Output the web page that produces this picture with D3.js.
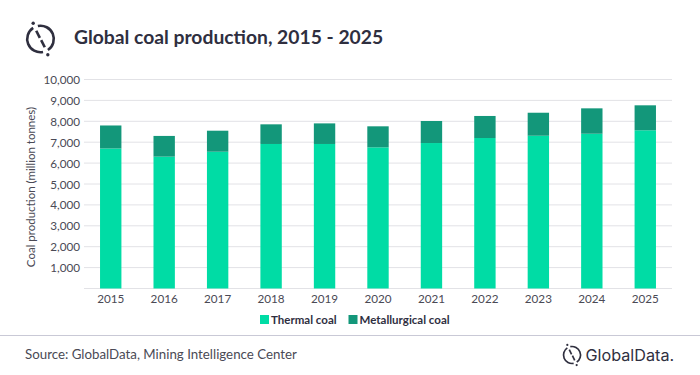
<!DOCTYPE html>
<html><head><meta charset="utf-8">
<script src="https://cdn.jsdelivr.net/npm/d3@7/dist/d3.min.js"></script>
<style>html,body{margin:0;padding:0;background:#fff;overflow:hidden}svg{display:block}text{font-family:Lato,"Open Sans",sans-serif}</style>
</head><body><svg id="c" width="700" height="375"></svg>
<script>
const years = ["2015","2016","2017","2018","2019","2020","2021","2022","2023","2024","2025"];
const thermal = [6700,6310,6545,6915,6915,6755,6960,7200,7310,7405,7570];
const metallurgical = [1100,990,1005,940,985,1005,1055,1055,1100,1215,1195];
const yTicks = [1000,2000,3000,4000,5000,6000,7000,8000,9000,10000];
const seriesNames = ["Thermal coal","Metallurgical coal"];
const seriesColors = ["#00dca5","#13977a"];

const svg = d3.select("#c");
const ink = "#2f2f3f", label = "#4a4a55";
const x = d3.scaleBand().domain(years).range([84,672]).paddingInner(0.6).paddingOuter(0.3);
const y = d3.scaleLinear().domain([0,10000]).range([288.5,79.5]);

svg.append("g").selectAll("line").data([0].concat(yTicks)).join("line")
  .attr("x1",84).attr("x2",672).attr("y1",d=>y(d)).attr("y2",d=>y(d))
  .attr("stroke","#e2e2e6").attr("stroke-width",1);

const stack = d3.stack().keys([0,1]).value((d,k)=>k===0?thermal[d]:metallurgical[d])(d3.range(years.length));
svg.append("g").selectAll("g").data(stack).join("g").attr("fill",(d,i)=>seriesColors[i])
  .selectAll("rect").data(d=>d.map((v,i)=>({v,i}))).join("rect")
  .attr("x",d=>x(years[d.i])).attr("width",x.bandwidth())
  .attr("y",d=>y(d.v[1])).attr("height",d=>y(d.v[0])-y(d.v[1]));

svg.append("g").selectAll("text").data(yTicks).join("text")
  .attr("x",80).attr("y",d=>y(d)+4.5).attr("text-anchor","end")
  .attr("font-size",11.7).attr("fill",label).text(d=>d3.format(",")(d));
svg.append("g").selectAll("text").data(years).join("text")
  .attr("x",d=>x(d)+x.bandwidth()/2).attr("y",303).attr("text-anchor","middle")
  .attr("font-size",11.7).attr("fill",label).text(d=>d);
svg.append("text").attr("transform","translate(35,187) rotate(-90)").attr("text-anchor","middle")
  .attr("font-size",11.5).attr("fill",label).text("Coal production (million tonnes)");

svg.append("text").attr("x",74).attr("y",44).attr("font-size",19.3).attr("font-weight",700).attr("fill",ink)
  .text("Global coal production, 2015 - 2025");

const lx=[260,348.5], tx=[271,359.5];
seriesNames.forEach((n,i)=>{
  svg.append("rect").attr("x",lx[i]).attr("y",315).attr("width",9).attr("height",9).attr("fill",seriesColors[i]);
  svg.append("text").attr("x",tx[i]).attr("y",324).attr("font-size",11.5).attr("font-weight",700).attr("fill",ink).text(n);
});

svg.append("line").attr("x1",0).attr("x2",700).attr("y1",335.5).attr("y2",335.5).attr("stroke","#c9c9d6").attr("stroke-width",1);
svg.append("text").attr("x",25).attr("y",359).attr("font-size",13.3).attr("fill",label).text("Source: GlobalData, Mining Intelligence Center");

function logo(cx,cy,r,sw){
  const g=svg.append("g").attr("fill","none").attr("stroke",ink).attr("stroke-width",sw);
  const arc=d3.arc().innerRadius(r).outerRadius(r);
  g.append("path").attr("transform",`translate(${cx},${cy})`).attr("d",arc({startAngle:-0.2,endAngle:2.55}));
  g.append("path").attr("transform",`translate(${cx},${cy})`).attr("d",arc({startAngle:2.95,endAngle:5.7}));
  g.append("line").attr("x1",cx-r*0.32).attr("y1",cy-r*0.62).attr("x2",cx-r*0.05).attr("y2",cy-r*0.08);
  g.append("line").attr("x1",cx+r*0.05).attr("y1",cy+r*0.08).attr("x2",cx+r*0.32).attr("y2",cy+r*0.62);
  svg.append("circle").attr("cx",cx-r*0.55).attr("cy",cy-r*1.18).attr("r",sw*0.65).attr("fill",ink);
  svg.append("circle").attr("cx",cx+r*0.55).attr("cy",cy+r*1.18).attr("r",sw*0.65).attr("fill",ink);
}
logo(40.5,39,13.3,2.6);
logo(572,355,8.5,1.7);
svg.append("text").attr("x",585.5).attr("y",360.5).style("font-family","Inter,Lato,sans-serif")
  .attr("font-size",16.2).attr("fill",ink).text("GlobalData.");
</script></body></html>
